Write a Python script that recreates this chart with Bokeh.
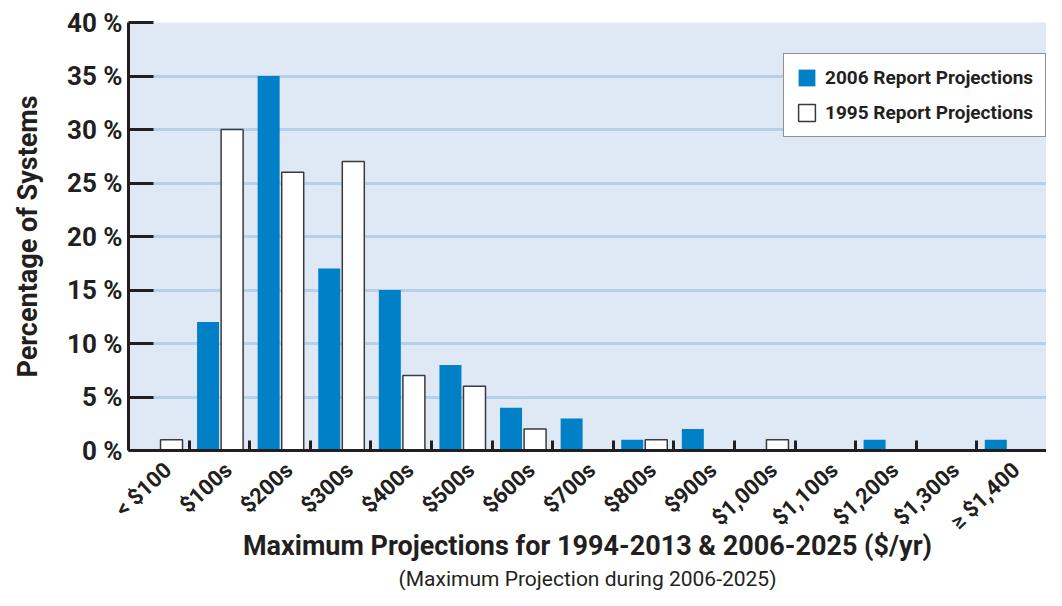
from bokeh.plotting import figure
from bokeh.models import FixedTicker, Legend, LegendItem, Title, Range1d, ColumnDataSource
from bokeh.transform import dodge
from bokeh.embed import file_html
from bokeh.resources import INLINE

# price buckets and percentage of systems
buckets = ["< $100", "$100s", "$200s", "$300s", "$400s", "$500s", "$600s", "$700s",
           "$800s", "$900s", "$1,000s", "$1,100s", "$1,200s", "$1,300s", "\u2265 $1,400"]
nan = float("nan")
report_2006 = [nan, 12, 35, 17, 15, 8, 4, 3, 1, 2, nan, nan, 1, nan, 1]
report_1995 = [1, 30, 26, 27, 7, 6, 2, nan, 1, nan, 1, nan, nan, nan, 0]
y_ticks = [0, 5, 10, 15, 20, 25, 30, 35, 40]

FONT = "Roboto"
DARK = "#231f20"
BLUE = "#0080c6"

idx = list(range(len(buckets)))
src = ColumnDataSource(data=dict(x=idx, r2006=report_2006, r1995=report_1995))

p = figure(width=1046, height=590, output_backend="svg", toolbar_location=None,
           x_range=Range1d(-0.5, 14.65), y_range=Range1d(0, 40),
           min_border_left=128, min_border_right=0, min_border_top=22, min_border_bottom=0)
p.background_fill_color = "#dfe8f5"
p.border_fill_color = "white"
p.outline_line_color = None

b1 = p.vbar(x=dodge("x", -0.187), top="r2006", width=0.363, source=src,
            fill_color=BLUE, line_color=None)
b2 = p.vbar(x=dodge("x", 0.21), top="r1995", width=0.363, source=src,
            fill_color="white", line_color="#3a3a3a", line_width=1.5)

# grid
p.xgrid.grid_line_color = None
p.ygrid.ticker = FixedTicker(ticks=y_ticks[1:])
p.ygrid.grid_line_color = "#b6d0ec"
p.ygrid.grid_line_width = 3

# x axis: labels sit a little right of the bucket centre, ticks on bucket edges
lab_pos = [i + 0.15 for i in idx]
xa = p.xaxis[0]
xa.ticker = FixedTicker(ticks=lab_pos, minor_ticks=[i + 0.5 for i in idx[:-1]])
xa.major_label_overrides = {pos: b for pos, b in zip(lab_pos, buckets)}
xa.major_tick_line_color = None
xa.minor_tick_in = 10
xa.minor_tick_out = 0
xa.minor_tick_line_width = 3
xa.minor_tick_line_color = DARK
xa.axis_line_width = 3
xa.axis_line_color = DARK
xa.major_label_orientation = 0.75
xa.major_label_text_font = FONT
xa.major_label_text_font_style = "bold"
xa.major_label_text_font_size = "22px"
xa.major_label_text_color = DARK
xa.major_label_standoff = 10
xa.axis_label = "Maximum Projections for 1994-2013 & 2006-2025 ($/yr)"
xa.axis_label_text_font = FONT
xa.axis_label_text_font_style = "bold"
xa.axis_label_text_font_size = "27px"
xa.axis_label_text_color = DARK
xa.axis_label_standoff = -16

sub = Title(text="(Maximum Projection during 2006-2025)", align="center",
            text_font=FONT, text_font_style="normal", text_font_size="21px",
            text_color=DARK, standoff=0, offset=0)
p.add_layout(sub, "below")

# y axis
ya = p.yaxis[0]
ya.ticker = FixedTicker(ticks=y_ticks)
ya.major_label_overrides = {t: "%d %%" % t for t in y_ticks}
ya.major_tick_in = 25
ya.major_tick_out = 0
ya.major_tick_line_width = 3
ya.major_tick_line_color = DARK
ya.minor_tick_line_color = None
ya.axis_line_width = 3
ya.axis_line_color = DARK
ya.major_label_text_font = FONT
ya.major_label_text_font_style = "bold"
ya.major_label_text_font_size = "26px"
ya.major_label_text_color = DARK
ya.major_label_standoff = 6
ya.axis_label = "Percentage of Systems"
ya.axis_label_text_font = FONT
ya.axis_label_text_font_style = "bold"
ya.axis_label_text_font_size = "27px"
ya.axis_label_text_color = DARK
ya.axis_label_standoff = 20

legend = Legend(items=[LegendItem(label="2006 Report Projections", renderers=[b1]),
                       LegendItem(label="1995 Report Projections", renderers=[b2])],
                location=(655, 313))
legend.label_text_font = FONT
legend.label_text_font_style = "bold"
legend.label_text_font_size = "19px"
legend.label_text_color = DARK
legend.label_standoff = 8
legend.glyph_width = 21
legend.glyph_height = 21
legend.spacing = 12
legend.padding = 12
legend.margin = 0
legend.border_line_color = DARK
legend.border_line_width = 1.5
legend.background_fill_color = "white"
legend.background_fill_alpha = 1
p.add_layout(legend, "center")

open("out.html", "w").write(file_html(p, INLINE))
